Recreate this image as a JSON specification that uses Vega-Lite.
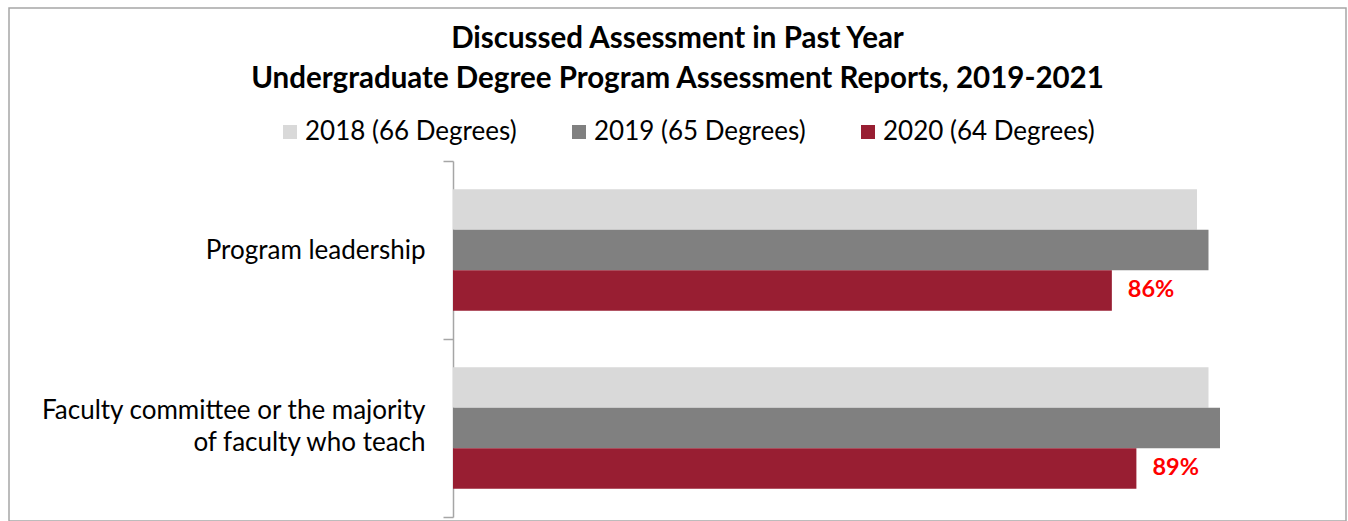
{
  "$schema": "https://vega.github.io/schema/vega-lite/v6.json",
  "width": 1337,
  "height": 513,
  "autosize": {"type": "none"},
  "padding": {"left": 9, "top": 8, "right": 2, "bottom": 0},
  "background": "white",
  "config": {
    "view": {"stroke": "#a6a6a6", "strokeWidth": 1.5},
    "font": "Lato"
  },
  "title": {
    "text": ["Discussed Assessment in Past Year", "Undergraduate Degree Program Assessment Reports, 2019-2021"],
    "fontSize": 29.5,
    "fontWeight": "bold",
    "color": "black",
    "font": "Lato",
    "lineHeight": 40,
    "anchor": "middle",
    "frame": "group",
    "offset": -99
  },
  "data": {
    "values": [
      {"category": "Program leadership", "series": "2018 (66 Degrees)", "value": 0.970},
      {"category": "Program leadership", "series": "2019 (65 Degrees)", "value": 0.985},
      {"category": "Program leadership", "series": "2020 (64 Degrees)", "value": 0.859},
      {"category": "Faculty committee or the majority|of faculty who teach", "series": "2018 (66 Degrees)", "value": 0.985},
      {"category": "Faculty committee or the majority|of faculty who teach", "series": "2019 (65 Degrees)", "value": 1.0},
      {"category": "Faculty committee or the majority|of faculty who teach", "series": "2020 (64 Degrees)", "value": 0.891}
    ]
  },
  "encoding": {
    "y": {
      "field": "category",
      "type": "nominal",
      "sort": null,
      "scale": {"range": [153, 509], "paddingInner": 0, "paddingOuter": 0},
      "axis": {
        "title": null,
        "offset": -444,
        "tickBand": "extent",
        "tickSize": 10,
        "tickColor": "#a6a6a6",
        "tickWidth": 1.5,
        "domainColor": "#a6a6a6",
        "domainWidth": 1.5,
        "labelFont": "Lato",
        "labelFontSize": 26,
        "labelColor": "black",
        "labelPadding": 18,
        "labelLimit": 600,
        "labelLineHeight": 32,
        "labelOffset": {"expr": "indexof(datum.label, '|') >= 0 ? -18 : 0"},
        "labelExpr": "split(datum.label, '|')"
      }
    },
    "yOffset": {
      "field": "series",
      "type": "nominal",
      "sort": ["2018 (66 Degrees)", "2019 (65 Degrees)", "2020 (64 Degrees)"],
      "scale": {"paddingInner": 0, "paddingOuter": 0.7}
    },
    "x": {
      "field": "value",
      "type": "quantitative",
      "scale": {"domain": [0, 1], "range": [444, 1211], "nice": false},
      "axis": null
    }
  },
  "layer": [
    {
      "mark": {"type": "bar"},
      "encoding": {
        "color": {
          "field": "series",
          "type": "nominal",
          "sort": ["2018 (66 Degrees)", "2019 (65 Degrees)", "2020 (64 Degrees)"],
          "scale": {"range": ["#d9d9d9", "#808080", "#981e32"]},
          "legend": {
            "orient": "none",
            "legendX": 268,
            "legendY": 111,
            "direction": "horizontal",
            "title": null,
            "symbolType": "square",
            "symbolSize": 196,
            "symbolStrokeWidth": 0,
            "labelFont": "Lato",
            "labelFontSize": 26,
            "labelColor": "black",
            "labelOffset": 2,
            "labelLimit": 500,
            "columnPadding": 49,
            "padding": 0
          }
        }
      }
    },
    {
      "transform": [{"filter": "datum.series == '2020 (64 Degrees)'"}],
      "mark": {"type": "text", "align": "left", "baseline": "middle", "dx": 16, "fontSize": 23.5, "fontWeight": "bold", "color": "#ff0000", "font": "Lato"},
      "encoding": {
        "text": {"field": "value", "type": "quantitative", "format": ".0%"}
      }
    }
  ]
}
